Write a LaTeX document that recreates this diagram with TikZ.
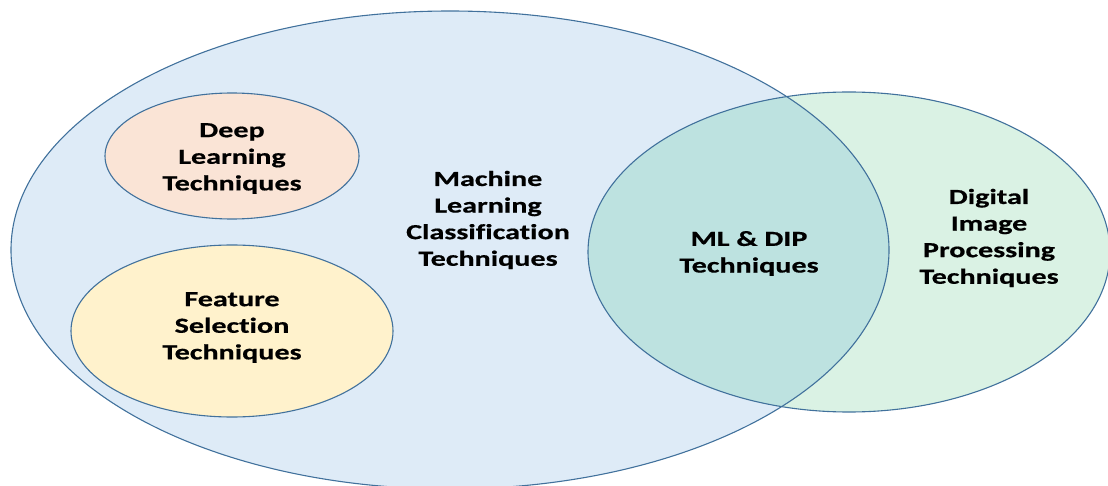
\documentclass[tikz,border=0pt]{standalone}
\usepackage{fontspec}
\newfontfamily\labelfont{Carlito Bold}[FakeStretch=1.4, FakeBold=0.6, Ligatures=NoCommon]
\definecolor{edge}{RGB}{65,113,156}
\definecolor{mlfill}{RGB}{222,235,247}
\definecolor{dipfill}{RGB}{218,242,228}
\definecolor{bothfill}{RGB}{189,226,224}
\definecolor{deepfill}{RGB}{250,228,214}
\definecolor{featfill}{RGB}{255,242,204}
\tikzset{
  rim/.style={draw=edge, line width=1.1pt},
  label text/.style={align=center, font=\labelfont\fontsize{21.5}{26.6}\selectfont, text=black, inner sep=0pt}
}
\begin{document}
\begin{tikzpicture}[x=1pt, y=-1pt]
\useasboundingbox (0,0) rectangle (1108,486);
% outer sets: machine learning and image processing
\fill[mlfill] (450,250) ellipse [x radius=439pt, y radius=239pt];
\fill[dipfill] (849,252) ellipse [x radius=261pt, y radius=160pt];
\begin{scope}
  \clip (450,250) ellipse [x radius=439pt, y radius=239pt];
  \fill[bothfill] (849,252) ellipse [x radius=261pt, y radius=160pt];
\end{scope}
\draw[rim] (450,250) ellipse [x radius=439pt, y radius=239pt];
\draw[rim] (849,252) ellipse [x radius=261pt, y radius=160pt];
% inner subsets
\draw[rim, fill=deepfill] (232,156) ellipse [x radius=127pt, y radius=63pt];
\draw[rim, fill=featfill] (232,331) ellipse [x radius=161pt, y radius=86pt];
% labels
\node[label text] (deep) at (232,158.5) {Deep\\Learning\\Techniques};
\node[label text] (feat) at (232,327.5) {Feature\\Selection\\Techniques};
\node[label text] (ml) at (488,220) {Machine\\Learning\\Classification\\Techniques};
\node[label text] (both) at (749,253.5) {ML \& DIP\\Techniques};
\node[label text] (dip) at (989,238) {Digital\\Image\\Processing\\Techniques};
\end{tikzpicture}
\end{document}
